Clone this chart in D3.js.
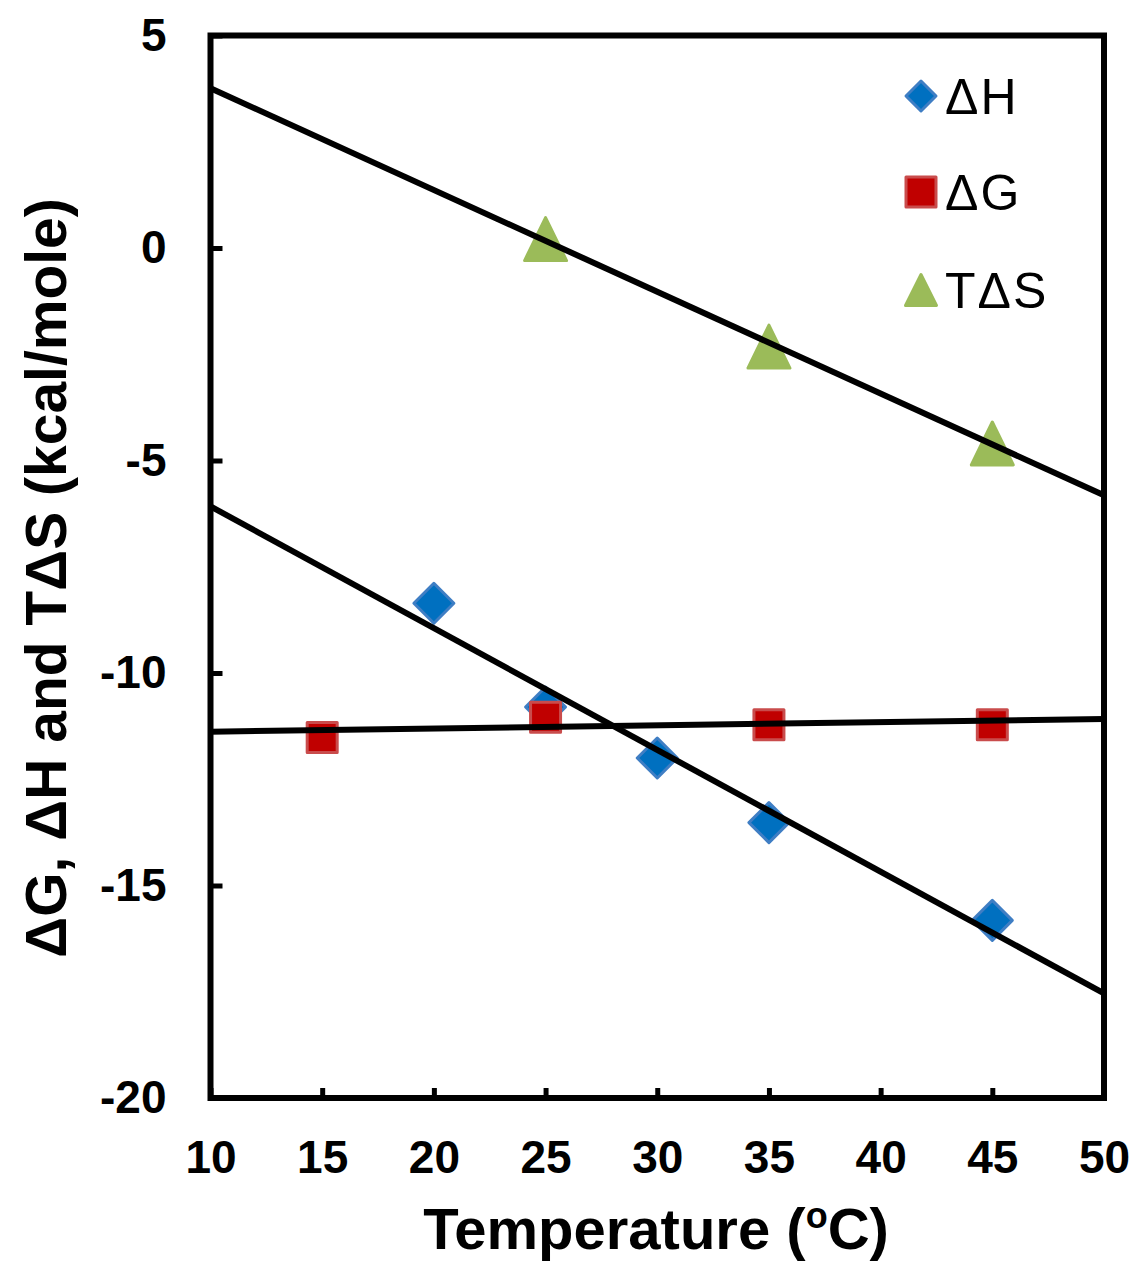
<!DOCTYPE html>
<html>
<head>
<meta charset="utf-8">
<script src="https://cdn.jsdelivr.net/npm/d3@7"></script>
<style>
  body { margin: 0; background: #fff; }
  svg { display: block; font-family: "Liberation Sans", Arial, sans-serif; }
</style>
</head>
<body>
<svg id="chart" width="1135" height="1265"></svg>
<script>
// values
var dhTemp = [20, 25, 30, 35, 45];
var dhVal = [-8.36, -10.8, -12.0, -13.52, -15.82];
var dgTemp = [15, 25, 35, 45];
var dgVal = [-11.52, -11.04, -11.22, -11.22];
var tsTemp = [25, 35, 45];
var tsVal = [0.21, -2.32, -4.6];

// trendline end points (excel linear fit, drawn from 10 to 50)
var trendTemp = [10, 50];
var dhTrend = [-6.08, -17.54];
var dgTrend = [-11.38, -11.08];
var tsTrend = [3.76, -5.82];

var xTicks = [10, 15, 20, 25, 30, 35, 40, 45, 50];
var yTicks = [5, 0, -5, -10, -15, -20];

var legendNames = ["\u0394H", "\u0394G", "T\u0394S"];

var svg = d3.select("#chart");

var xScale = d3.scaleLinear().domain([10, 50]).range([210.5, 1104]);
var yScale = d3.scaleLinear().domain([-20, 5]).range([1098, 35.5]);

// marker shapes, relative to their centre
function diamond(r) { return "M0," + (-r) + "L" + r + ",0L0," + r + "L" + (-r) + ",0Z"; }
function square(r) { return "M" + (-r) + "," + (-r) + "H" + r + "V" + r + "H" + (-r) + "Z"; }
function triangle(w, h) { return "M0," + (-h / 2) + "L" + (w / 2) + "," + (h / 2) + "L" + (-w / 2) + "," + (h / 2) + "Z"; }

var series = [
    { name: legendNames[0], temp: dhTemp, val: dhVal, trend: dhTrend, fill: "#0070C0", stroke: "#3F7EC4", shape: diamond(20), legShape: diamond(15) },
    { name: legendNames[1], temp: dgTemp, val: dgVal, trend: dgTrend, fill: "#C00000", stroke: "#C94C4C", shape: square(15), legShape: square(15) },
    { name: legendNames[2], temp: tsTemp, val: tsVal, trend: tsTrend, fill: "#9BBB59", stroke: "#9BBB59", shape: triangle(42, 43), legShape: triangle(31, 31) }
];

// axes (ticks inward, domain drawn as a frame)
var xAxis = d3.axisBottom(xScale).tickValues(xTicks).tickSize(-10).tickPadding(42).tickFormat(d3.format("d"));
var yAxis = d3.axisLeft(yScale).tickValues(yTicks).tickSize(-12).tickPadding(44).tickFormat(function (d) { return d; });

var gx = svg.append("g").attr("transform", "translate(0,1098)").call(xAxis);
var gy = svg.append("g").attr("transform", "translate(210.5,0)").call(yAxis);

[gx, gy].forEach(function (g) {
    g.select(".domain").remove();
    g.selectAll(".tick line").attr("stroke", "#000").attr("stroke-width", 5);
    g.selectAll(".tick text").attr("fill", "#000").attr("font-size", 46).attr("font-weight", "bold")
        .attr("font-family", "'Liberation Sans', Arial, sans-serif");
});

svg.append("rect")
    .attr("x", xScale(10)).attr("y", yScale(5))
    .attr("width", xScale(50) - xScale(10)).attr("height", yScale(-20) - yScale(5))
    .attr("fill", "none").attr("stroke", "#000").attr("stroke-width", 6);

// markers
series.forEach(function (s) {
    svg.append("g").selectAll("path")
        .data(s.temp.map(function (t, i) { return { t: t, v: s.val[i] }; }))
        .enter().append("path")
        .attr("d", s.shape)
        .attr("transform", function (d) { return "translate(" + xScale(d.t) + "," + yScale(d.v) + ")"; })
        .attr("fill", s.fill)
        .attr("stroke", s.stroke)
        .attr("stroke-width", 3)
        .attr("stroke-linejoin", "round");
});

// trendlines on top
var line = d3.line().x(function (d) { return xScale(d.t); }).y(function (d) { return yScale(d.v); });
series.forEach(function (s) {
    svg.append("path")
        .datum(trendTemp.map(function (t, i) { return { t: t, v: s.trend[i] }; }))
        .attr("d", line)
        .attr("fill", "none")
        .attr("stroke", "#000")
        .attr("stroke-width", 6);
});

// legend
var legY = [96, 192, 290];
var leg = svg.append("g");
series.forEach(function (s, i) {
    leg.append("path")
        .attr("d", s.legShape)
        .attr("transform", "translate(921," + legY[i] + ")")
        .attr("fill", s.fill).attr("stroke", s.stroke).attr("stroke-width", 3).attr("stroke-linejoin", "round");
    leg.append("text")
        .attr("x", 945).attr("y", legY[i] + 18)
        .attr("font-size", 50)
        .attr("letter-spacing", 2)
        .text(s.name);
});

// axis titles
var xt = svg.append("text")
    .attr("x", 656).attr("y", 1249)
    .attr("text-anchor", "middle")
    .attr("font-size", 58).attr("font-weight", "bold");
xt.append("tspan").text("Temperature (");
xt.append("tspan").attr("font-size", 36).attr("dy", -21).text("o");
xt.append("tspan").attr("dy", 21).text("C)");

svg.append("text")
    .attr("transform", "translate(66,578) rotate(-90)")
    .attr("text-anchor", "middle")
    .attr("font-size", 57).attr("font-weight", "bold")
    .text("\u0394G, \u0394H and T\u0394S (kcal/mole)");
</script>
</body>
</html>
